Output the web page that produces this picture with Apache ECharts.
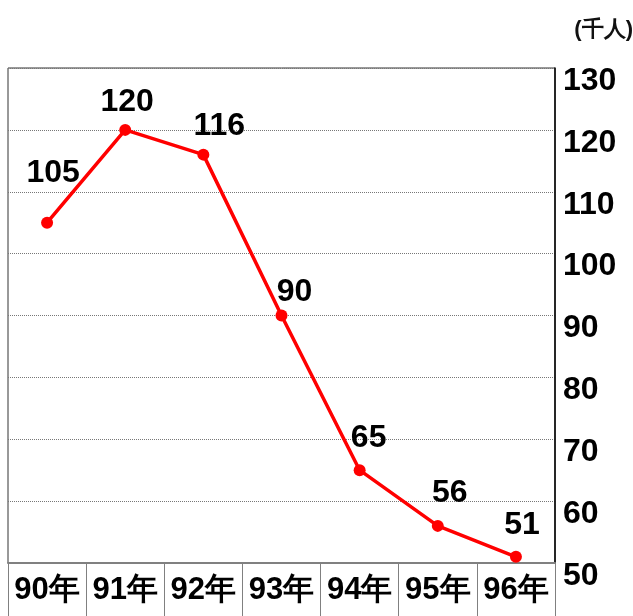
<!DOCTYPE html>
<html>
<head>
<meta charset="utf-8">
<script src="https://cdn.jsdelivr.net/npm/echarts@6/dist/echarts.min.js"></script>
<style>
  html, body { margin: 0; padding: 0; background: #fff; }
  #main { width: 633px; height: 616px; }
</style>
</head>
<body>
<div id="main"></div>
<script>
var years = ['90年', '91年', '92年', '93年', '94年', '95年', '96年'];
var people = [105, 120, 116, 90, 65, 56, 51];
var yTicks = [50, 130, 10]; // min, max, interval
var unitLabel = '(千人)';

// label nudges per point [dx, dy] so they sit like the original
var labelShift = [[6, -16], [2, 6], [16, 6], [13, 11], [9, 2], [12, 1], [6, 2]];

var font = 'Liberation Sans, Arial, sans-serif';
var myChart = echarts.init(document.getElementById('main'));

myChart.setOption({
    backgroundColor: '#fff',
    animation: false,
    grid: {
        left: 8,
        right: 78,
        top: 68,
        bottom: 53,
        show: true,
        borderColor: '#333',
        borderWidth: 1
    },
    graphic: [{
        type: 'text',
        right: 0,
        top: 19,
        style: {
            text: unitLabel,
            fontSize: 22,
            fontWeight: 'bold',
            fontFamily: font,
            fill: '#111'
        }
    }],
    xAxis: {
        type: 'category',
        boundaryGap: true,
        data: years,
        axisLine: { show: true, lineStyle: { color: '#808080', width: 2 } },
        axisTick: {
            show: true,
            length: 53,
            interval: 0,
            lineStyle: { color: '#808080', width: 1 }
        },
        axisLabel: {
            interval: 0,
            margin: 12,
            fontSize: 31,
            fontWeight: 'bold',
            fontFamily: font,
            color: '#000'
        }
    },
    yAxis: {
        type: 'value',
        position: 'right',
        min: yTicks[0],
        max: yTicks[1],
        interval: yTicks[2],
        axisLine: { show: true, lineStyle: { color: '#000', width: 1.5 } },
        axisTick: { show: false },
        splitLine: {
            show: true,
            lineStyle: { color: '#777', type: 'dotted', width: 1 }
        },
        axisLabel: {
            margin: 8,
            fontSize: 32,
            fontWeight: 'bold',
            fontFamily: font,
            color: '#000',
            verticalAlign: 'top',
            lineHeight: 26
        }
    },
    series: [{
        type: 'line',
        data: people.map(function (v, i) {
            return {
                value: v,
                label: { offset: labelShift[i] }
            };
        }),
        lineStyle: { color: '#ff0000', width: 3.5 },
        itemStyle: { color: '#ff0000' },
        symbol: 'circle',
        symbolSize: 12,
        label: {
            show: true,
            position: 'top',
            distance: 12,
            fontSize: 32,
            fontWeight: 'bold',
            fontFamily: font,
            color: '#000'
        }
    }]
});
</script>
</body>
</html>
